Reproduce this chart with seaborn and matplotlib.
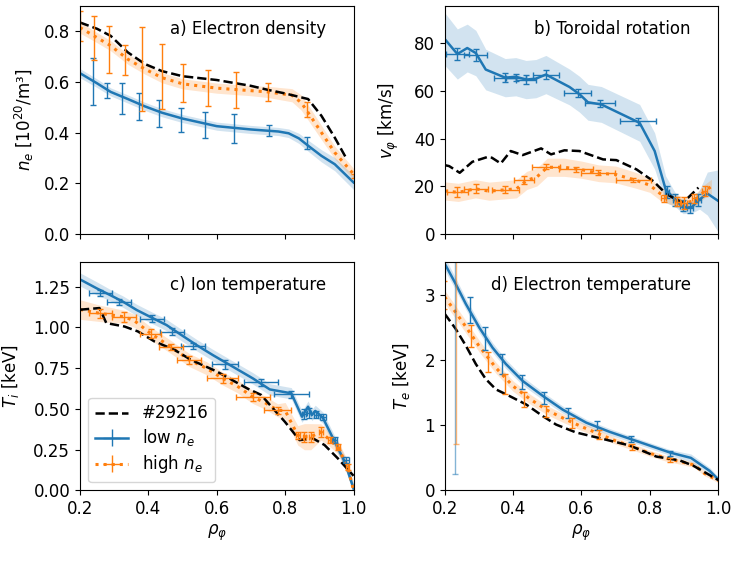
import numpy as np
import matplotlib
matplotlib.use("Agg")
import matplotlib.pyplot as plt
import seaborn as sns

plt.rcParams["font.size"] = 12
plt.rcParams["axes.labelpad"] = 9

BLUE = "#1f77b4"
ORANGE = "#ff7f0e"

# ---------------- a) electron density ----------------
rho_a_ref = [0.2, 0.25, 0.29, 0.34, 0.39, 0.44, 0.5, 0.6, 0.7, 0.75, 0.8, 0.867, 0.906, 0.945, 0.98]
ne_ref = [0.835, 0.81, 0.782, 0.717, 0.671, 0.643, 0.623, 0.608, 0.585, 0.569, 0.555, 0.533, 0.467, 0.381, 0.296]

rho_a_lo = [0.2, 0.25, 0.29, 0.34, 0.39, 0.44, 0.5, 0.6, 0.7, 0.75, 0.78, 0.81, 0.84, 0.87, 0.906, 0.945, 1.0]
ne_lo = [0.635, 0.595, 0.561, 0.533, 0.504, 0.479, 0.456, 0.426, 0.413, 0.408, 0.405, 0.398, 0.378, 0.346, 0.309, 0.276, 0.204]
ne_lo_band = [0.018, 0.017, 0.016, 0.016, 0.016, 0.016, 0.016, 0.016, 0.016, 0.016, 0.016, 0.017, 0.02, 0.022, 0.024, 0.026, 0.028]

rho_a_hi = [0.2, 0.25, 0.29, 0.34, 0.39, 0.44, 0.5, 0.6, 0.7, 0.75, 0.82, 0.847, 0.867, 0.906, 0.945, 1.0]
ne_hi = [0.815, 0.775, 0.743, 0.69, 0.651, 0.617, 0.593, 0.576, 0.566, 0.561, 0.548, 0.519, 0.48, 0.401, 0.322, 0.237]
ne_hi_band = [0.022, 0.02, 0.02, 0.02, 0.02, 0.02, 0.02, 0.02, 0.02, 0.022, 0.026, 0.03, 0.03, 0.028, 0.025, 0.022]

pts_a_lo_rho = [0.237, 0.278, 0.324, 0.374, 0.431, 0.495, 0.567, 0.651, 0.753, 0.864]
pts_a_lo_ne = [0.602, 0.568, 0.535, 0.504, 0.476, 0.45, 0.43, 0.417, 0.41, 0.36]
pts_a_lo_err = [0.092, 0.029, 0.06, 0.052, 0.053, 0.048, 0.05, 0.058, 0.022, 0.025]

pts_a_hi_rho = [0.199, 0.242, 0.285, 0.331, 0.382, 0.44, 0.502, 0.574, 0.656, 0.751, 0.864, 1.0]
pts_a_hi_ne = [0.822, 0.773, 0.728, 0.687, 0.652, 0.622, 0.596, 0.576, 0.568, 0.562, 0.492, 0.23]
pts_a_hi_err = [0.059, 0.087, 0.094, 0.059, 0.166, 0.129, 0.076, 0.072, 0.072, 0.036, 0.03, 0.008]

# ---------------- b) toroidal rotation ----------------
rho_b_ref = [0.2, 0.213, 0.244, 0.281, 0.325, 0.338, 0.364, 0.393, 0.428, 0.482, 0.511, 0.55, 0.594,
             0.663, 0.702, 0.761, 0.81, 0.844, 0.864, 0.897, 0.942]
v_ref = [28.9, 28.5, 25.7, 30.3, 32.3, 32.0, 29.6, 34.8, 33.1, 35.9, 33.4, 35.1, 34.8,
         31.3, 31.0, 27.1, 22.2, 17.4, 15.5, 13.2, 19.5]

rho_b_lo = [0.2, 0.237, 0.266, 0.291, 0.32, 0.377, 0.408, 0.438, 0.467, 0.496, 0.565, 0.594, 0.619,
            0.658, 0.77, 0.814, 0.846, 0.873, 0.897, 0.922, 0.945, 0.968, 1.0]
v_lo = [81.7, 75.4, 77.9, 75.8, 68.9, 65.5, 65.9, 64.7, 65.1, 66.8, 61.6, 58.6, 55.2,
        54.3, 46.6, 34.8, 18.8, 14.6, 11.1, 11.3, 14.5, 17.0, 13.9]
v_lo_band = [11, 10.5, 10, 9.5, 8.5, 8, 8, 8, 8, 8, 7.5, 7.5, 7.5,
             7.5, 7.7, 7.6, 5.6, 3, 2.5, 2.5, 4, 9, 13]

rho_b_hi = [0.2, 0.24, 0.29, 0.33, 0.37, 0.41, 0.44, 0.47, 0.5, 0.55, 0.6, 0.65, 0.7, 0.76, 0.8,
            0.83, 0.86, 0.9, 0.93, 0.96, 0.98]
v_hi = [18.1, 17.5, 19.0, 18.0, 18.5, 19.0, 22.5, 24.0, 28.0, 28.0, 27.0, 25.5, 25.0, 22.5, 20.5,
        17.0, 15.0, 13.0, 14.0, 18.0, 20.0]
v_hi_band = [3.8, 3.8, 3.8, 3.8, 3.8, 3.8, 3.8, 3.8, 3.8, 3.8, 3.6, 3.5, 3.5, 3.3, 3.0,
             2.8, 2.5, 2.5, 2.5, 2.8, 3.0]

pts_b_lo_rho = [0.237, 0.291, 0.377, 0.408, 0.438, 0.496, 0.589, 0.653, 0.765, 0.85, 0.873, 0.897, 0.917, 0.941]
pts_b_lo_v = [75.4, 75.0, 65.5, 65.5, 64.7, 66.8, 59.1, 54.7, 47.3, 17.5, 14.5, 12.0, 11.0, 14.5]
pts_b_lo_yerr = [2.6, 2.7, 2.0, 1.5, 2.0, 1.8, 1.5, 1.5, 1.5, 2.5, 2.5, 2.5, 2.0, 2.5]
pts_b_lo_xerr = [0.034, 0.034, 0.032, 0.03, 0.03, 0.039, 0.04, 0.044, 0.052, 0.006, 0.006, 0.008, 0.008, 0.008]

pts_b_hi_rho = [0.237, 0.291, 0.377, 0.432, 0.496, 0.585, 0.649, 0.752, 0.84, 0.88, 0.9, 0.93, 0.96]
pts_b_hi_v = [17.7, 19.1, 18.7, 22.7, 28.3, 27.1, 25.7, 22.7, 15.0, 13.6, 13.0, 15.0, 18.0]
pts_b_hi_yerr = [2, 2, 1.5, 1.5, 1, 1, 1, 1, 1.5, 2, 2.5, 2, 2]
pts_b_hi_xerr = [0.03, 0.035, 0.04, 0.03, 0.04, 0.05, 0.05, 0.05, 0.008, 0.008, 0.008, 0.008, 0.008]

# ---------------- c) ion temperature ----------------
rho_c_ref = [0.2, 0.257, 0.277, 0.33, 0.369, 0.418, 0.476, 0.525, 0.6, 0.69, 0.73, 0.764, 0.799,
             0.842, 0.881, 0.915, 0.954, 1.0]
Ti_ref = [1.109, 1.119, 1.027, 1.006, 0.976, 0.914, 0.863, 0.801, 0.73, 0.625, 0.586, 0.504, 0.422,
          0.309, 0.32, 0.279, 0.197, 0.09]

rho_c_lo = [0.2, 0.249, 0.288, 0.326, 0.366, 0.414, 0.453, 0.497, 0.541, 0.589, 0.648, 0.706, 0.755,
            0.818, 0.849, 0.867, 0.878, 0.888, 0.91, 0.94, 0.974, 1.0]
Ti_lo = [1.295, 1.24, 1.199, 1.158, 1.107, 1.056, 1.015, 0.953, 0.892, 0.83, 0.758, 0.687, 0.62,
         0.596, 0.453, 0.514, 0.463, 0.488, 0.447, 0.32, 0.176, 0.012]
Ti_lo_band = [0.04, 0.04, 0.035, 0.035, 0.035, 0.035, 0.035, 0.035, 0.035, 0.035, 0.035, 0.035, 0.035,
              0.035, 0.035, 0.035, 0.035, 0.035, 0.035, 0.035, 0.035, 0.03]

rho_c_hi = [0.2, 0.26, 0.33, 0.36, 0.407, 0.466, 0.52, 0.57, 0.617, 0.66, 0.705, 0.74, 0.778, 0.8,
            0.837, 0.856, 0.875, 0.905, 0.93, 0.954, 0.983, 1.0]
Ti_hi = [1.11, 1.086, 1.065, 1.04, 0.963, 0.88, 0.80, 0.75, 0.687, 0.64, 0.574, 0.54, 0.492, 0.49,
         0.338, 0.33, 0.33, 0.359, 0.31, 0.266, 0.143, 0.0]
Ti_hi_band = [0.06, 0.05, 0.04, 0.04, 0.04, 0.04, 0.04, 0.04, 0.04, 0.04, 0.04, 0.04, 0.04, 0.05,
              0.06, 0.08, 0.08, 0.05, 0.04, 0.04, 0.04, 0.03]

pts_c_lo_rho = [0.26, 0.315, 0.41, 0.47, 0.53, 0.624, 0.73, 0.818, 0.855, 0.87, 0.89, 0.91, 0.945, 0.978]
pts_c_lo_T = [1.21, 1.155, 1.055, 0.975, 0.885, 0.773, 0.664, 0.59, 0.47, 0.475, 0.465, 0.45, 0.31, 0.186]
pts_c_lo_yerr = [0.02, 0.02, 0.02, 0.02, 0.02, 0.025, 0.02, 0.02, 0.03, 0.03, 0.02, 0.02, 0.02, 0.02]
pts_c_lo_xerr = [0.035, 0.035, 0.035, 0.035, 0.035, 0.037, 0.049, 0.051, 0.005, 0.005, 0.005, 0.008, 0.008, 0.008]

pts_c_hi_rho = [0.26, 0.33, 0.407, 0.466, 0.52, 0.617, 0.705, 0.778, 0.837, 0.856, 0.875, 0.905, 0.93, 0.954, 0.983]
pts_c_hi_T = [1.086, 1.065, 0.963, 0.88, 0.80, 0.687, 0.574, 0.492, 0.338, 0.33, 0.33, 0.359, 0.31, 0.266, 0.143]
pts_c_hi_yerr = [0.025, 0.03, 0.03, 0.02, 0.025, 0.025, 0.025, 0.02, 0.02, 0.03, 0.03, 0.03, 0.02, 0.02, 0.02]
pts_c_hi_xerr = [0.035, 0.035, 0.03, 0.035, 0.035, 0.045, 0.05, 0.04, 0.005, 0.005, 0.005, 0.005, 0.005, 0.005, 0.005]

# ---------------- d) electron temperature ----------------
rho_d_ref = [0.2, 0.232, 0.262, 0.291, 0.32, 0.35, 0.389, 0.438, 0.487, 0.526, 0.584, 0.663, 0.741,
             0.819, 0.888, 0.927, 1.0]
Te_ref = [2.71, 2.48, 2.22, 1.94, 1.71, 1.55, 1.45, 1.32, 1.14, 1.01, 0.89, 0.79, 0.69,
          0.52, 0.46, 0.38, 0.16]

rho_d_lo = [0.2, 0.232, 0.262, 0.301, 0.34, 0.379, 0.428, 0.487, 0.545, 0.614, 0.682, 0.76, 0.86, 0.92, 0.975, 1.0]
Te_lo = [3.48, 3.17, 2.86, 2.50, 2.19, 1.94, 1.68, 1.45, 1.24, 1.04, 0.9, 0.76, 0.58, 0.50, 0.30, 0.17]
Te_lo_band = [0.1, 0.09, 0.085, 0.08, 0.075, 0.07, 0.065, 0.06, 0.055, 0.05, 0.05, 0.045, 0.045, 0.06, 0.05, 0.04]

rho_d_hi = [0.2, 0.25, 0.3, 0.35, 0.4, 0.45, 0.5, 0.55, 0.6, 0.65, 0.7, 0.75, 0.8, 0.85, 0.9, 0.93, 0.96, 1.0]
Te_hi = [2.97, 2.6, 2.22, 1.88, 1.6, 1.4, 1.23, 1.1, 0.98, 0.87, 0.76, 0.67, 0.57, 0.49, 0.43, 0.39, 0.26, 0.15]
Te_hi_band = [0.1, 0.095, 0.09, 0.085, 0.08, 0.075, 0.07, 0.065, 0.06, 0.055, 0.05, 0.05, 0.045, 0.045, 0.04, 0.04, 0.035, 0.03]

# first point of each series is the poorly constrained core channel
pts_d_lo_rho = [0.229, 0.273, 0.319, 0.368, 0.425, 0.49, 0.562, 0.645, 0.745, 0.86]
pts_d_lo_T = [3.2, 2.77, 2.33, 1.94, 1.667, 1.42, 1.19, 0.99, 0.79, 0.573]
pts_d_lo_err = [2.95, 0.2, 0.17, 0.155, 0.11, 0.095, 0.08, 0.07, 0.05, 0.04]

pts_d_hi_rho = [0.234, 0.199, 0.278, 0.326, 0.376, 0.433, 0.497, 0.572, 0.652, 0.748, 0.86]
pts_d_hi_T = [3.1, 3.0, 2.37, 1.97, 1.63, 1.395, 1.21, 1.03, 0.855, 0.67, 0.473]
pts_d_hi_err = [2.39, 0.22, 0.17, 0.16, 0.15, 0.11, 0.09, 0.075, 0.07, 0.05, 0.03]


def profile(ax, x, y, band, color, ls, lw):
    x = np.asarray(x)
    y = np.asarray(y)
    band = np.asarray(band)
    ax.fill_between(x, y - band, y + band, color=color, alpha=0.2, lw=0)
    sns.lineplot(x=x, y=y, ax=ax, color=color, linestyle=ls, lw=lw,
                 estimator=None, sort=False)


def points(ax, x, y, yerr, color, xerr=None, alpha=1.0):
    ax.errorbar(x, y, yerr=yerr, xerr=xerr, fmt="none", ecolor=color, alpha=alpha,
                elinewidth=1, capsize=2.5, capthick=1)


fig = plt.figure(figsize=(7.37, 5.86), dpi=100)
axes = fig.subplots(2, 2, sharex=True)
fig.subplots_adjust(left=0.1085, right=0.9746, top=0.9898, bottom=0.163,
                    hspace=0.123, wspace=0.333)
ax_a, ax_b = axes[0]
ax_c, ax_d = axes[1]

# a
profile(ax_a, rho_a_lo, ne_lo, ne_lo_band, BLUE, "-", 1.8)
profile(ax_a, rho_a_hi, ne_hi, ne_hi_band, ORANGE, ":", 2.2)
sns.lineplot(x=rho_a_ref, y=ne_ref, ax=ax_a, color="black", linestyle="--", lw=1.8, estimator=None)
points(ax_a, pts_a_lo_rho, pts_a_lo_ne, pts_a_lo_err, BLUE)
points(ax_a, pts_a_hi_rho, pts_a_hi_ne, pts_a_hi_err, ORANGE)
ax_a.set_ylim(0, 0.9)
ax_a.set_yticks([0.0, 0.2, 0.4, 0.6, 0.8])
ax_a.set_ylabel(r"$n_e$ [10$^{20}$/m³]", labelpad=6)
ax_a.text(0.9, 0.9, "a) Electron density", transform=ax_a.transAxes, ha="right", va="center")

# b
profile(ax_b, rho_b_lo, v_lo, v_lo_band, BLUE, "-", 1.8)
profile(ax_b, rho_b_hi, v_hi, v_hi_band, ORANGE, ":", 2.2)
sns.lineplot(x=rho_b_ref, y=v_ref, ax=ax_b, color="black", linestyle="--", lw=1.8, estimator=None)
points(ax_b, pts_b_lo_rho, pts_b_lo_v, pts_b_lo_yerr, BLUE, pts_b_lo_xerr)
points(ax_b, pts_b_hi_rho, pts_b_hi_v, pts_b_hi_yerr, ORANGE, pts_b_hi_xerr)
ax_b.set_ylim(0, 95.5)
ax_b.set_yticks([0, 20, 40, 60, 80])
ax_b.set_ylabel(r"$v_\varphi$ [km/s]")
ax_b.text(0.9, 0.9, "b) Toroidal rotation", transform=ax_b.transAxes, ha="right", va="center")

# c
profile(ax_c, rho_c_lo, Ti_lo, Ti_lo_band, BLUE, "-", 1.8)
profile(ax_c, rho_c_hi, Ti_hi, Ti_hi_band, ORANGE, ":", 2.2)
sns.lineplot(x=rho_c_ref, y=Ti_ref, ax=ax_c, color="black", linestyle="--", lw=1.8, estimator=None)
points(ax_c, pts_c_lo_rho, pts_c_lo_T, pts_c_lo_yerr, BLUE, pts_c_lo_xerr)
points(ax_c, pts_c_hi_rho, pts_c_hi_T, pts_c_hi_yerr, ORANGE, pts_c_hi_xerr)
ax_c.set_ylim(0, 1.4)
ax_c.set_yticks([0.0, 0.25, 0.5, 0.75, 1.0, 1.25])
ax_c.yaxis.set_major_formatter(matplotlib.ticker.FormatStrFormatter("%.2f"))
ax_c.set_ylabel(r"$T_i$ [keV]")
ax_c.set_xlabel(r"$\rho_\varphi$", labelpad=3)
ax_c.text(0.9, 0.9, "c) Ion temperature", transform=ax_c.transAxes, ha="right", va="center")

# d
profile(ax_d, rho_d_lo, Te_lo, Te_lo_band, BLUE, "-", 1.8)
profile(ax_d, rho_d_hi, Te_hi, Te_hi_band, ORANGE, ":", 2.2)
sns.lineplot(x=rho_d_ref, y=Te_ref, ax=ax_d, color="black", linestyle="--", lw=1.8, estimator=None)
points(ax_d, pts_d_lo_rho[:1], pts_d_lo_T[:1], pts_d_lo_err[:1], BLUE, alpha=0.55)
points(ax_d, pts_d_lo_rho[1:], pts_d_lo_T[1:], pts_d_lo_err[1:], BLUE)
points(ax_d, pts_d_hi_rho[:1], pts_d_hi_T[:1], pts_d_hi_err[:1], ORANGE, alpha=0.55)
points(ax_d, pts_d_hi_rho[1:], pts_d_hi_T[1:], pts_d_hi_err[1:], ORANGE)
ax_d.set_ylim(0, 3.5)
ax_d.set_yticks([0, 1, 2, 3])
ax_d.set_ylabel(r"$T_e$ [keV]")
ax_d.set_xlabel(r"$\rho_\varphi$", labelpad=3)
ax_d.text(0.9, 0.9, "d) Electron temperature", transform=ax_d.transAxes, ha="right", va="center")

for ax in axes.flat:
    ax.set_xlim(0.2, 1.0)
    ax.set_xticks([0.2, 0.4, 0.6, 0.8, 1.0])

# legend proxies in panel c
h_ref = matplotlib.lines.Line2D([], [], color="black", linestyle="--", lw=1.8)
h_lo = ax_c.errorbar([], [], xerr=[], yerr=[], fmt="-", color=BLUE, lw=1.8,
                     elinewidth=1, capsize=2.5, capthick=1)
h_hi = ax_c.errorbar([], [], xerr=[], yerr=[], fmt=":", color=ORANGE, lw=2.2,
                     elinewidth=1, capsize=2.5, capthick=1)
ax_c.legend([h_ref, h_lo, h_hi], ["#29216", r"low $n_e$", r"high $n_e$"],
            loc="lower left", labelspacing=0.3)

fig.savefig("out.png", dpi=100)
